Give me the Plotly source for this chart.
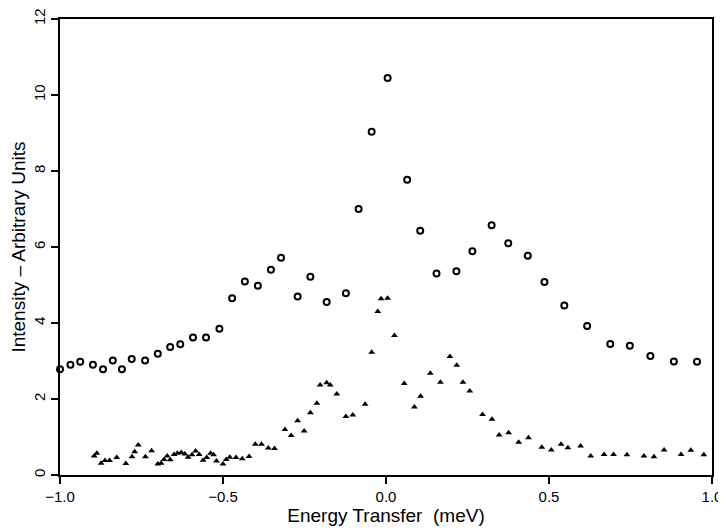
import plotly.graph_objects as go

# Open circles series
circle_x = [-1.000, -0.968, -0.938, -0.899, -0.868, -0.838, -0.810, -0.780, -0.739, -0.700,
            -0.662, -0.631, -0.592, -0.552, -0.511, -0.472, -0.433, -0.393, -0.353, -0.322,
            -0.271, -0.232, -0.182, -0.123, -0.084, -0.044, 0.005, 0.065, 0.105, 0.155,
            0.216, 0.265, 0.324, 0.375, 0.435, 0.486, 0.547, 0.617, 0.688, 0.748,
            0.811, 0.883, 0.954]
circle_y = [2.78, 2.90, 2.98, 2.90, 2.78, 3.01, 2.78, 3.05, 3.01, 3.19,
            3.37, 3.44, 3.62, 3.62, 3.85, 4.65, 5.09, 4.98, 5.40, 5.72,
            4.70, 5.22, 4.55, 4.78, 7.00, 9.03, 10.45, 7.77, 6.43, 5.30,
            5.36, 5.89, 6.57, 6.10, 5.77, 5.08, 4.46, 3.92, 3.45, 3.40,
            3.13, 2.99, 2.98]

# Filled triangles series
tri_x = [-0.895, -0.887, -0.874, -0.862, -0.848, -0.826, -0.798, -0.779, -0.771, -0.760,
         -0.738, -0.719, -0.700, -0.690, -0.681, -0.671, -0.662, -0.650, -0.640, -0.628,
         -0.617, -0.607, -0.595, -0.584, -0.573, -0.561, -0.550, -0.538, -0.529, -0.520,
         -0.500, -0.490, -0.479, -0.460, -0.441, -0.420, -0.401, -0.382, -0.361, -0.342,
         -0.310, -0.291, -0.271, -0.251, -0.232, -0.212, -0.202, -0.182, -0.171, -0.151,
         -0.123, -0.102, -0.064, -0.044, -0.025, -0.015, 0.005, 0.026, 0.056, 0.087,
         0.106, 0.136, 0.167, 0.196, 0.217, 0.236, 0.257, 0.296, 0.325, 0.347,
         0.376, 0.407, 0.437, 0.478, 0.507, 0.537, 0.558, 0.597, 0.628, 0.669,
         0.698, 0.739, 0.791, 0.822, 0.853, 0.905, 0.935, 0.975]
tri_y = [0.50, 0.57, 0.31, 0.38, 0.38, 0.46, 0.30, 0.48, 0.61, 0.79,
         0.48, 0.64, 0.29, 0.31, 0.41, 0.50, 0.40, 0.54, 0.57, 0.59,
         0.55, 0.47, 0.53, 0.63, 0.54, 0.39, 0.46, 0.57, 0.53, 0.37,
         0.29, 0.41, 0.47, 0.46, 0.43, 0.49, 0.81, 0.81, 0.71, 0.70,
         1.20, 1.04, 1.43, 1.16, 1.64, 1.89, 2.37, 2.43, 2.37, 2.13,
         1.54, 1.58, 1.86, 3.23, 4.30, 4.64, 4.65, 3.67, 2.41, 1.79,
         2.07, 2.68, 2.44, 3.12, 2.89, 2.44, 2.21, 1.59, 1.47, 1.05,
         1.11, 0.86, 0.98, 0.73, 0.66, 0.81, 0.72, 0.76, 0.50, 0.54,
         0.54, 0.53, 0.50, 0.48, 0.66, 0.54, 0.65, 0.53]

x_tickvals = [-1.0, -0.5, 0.0, 0.5, 1.0]
x_ticktext = ["\u22121.0", "\u22120.5", "0.0", "0.5", "1.0"]
y_tickvals = [0, 2, 4, 6, 8, 10, 12]
y_ticktext = ["0", "2", "4", "6", "8", "10", "12"]

FONT = "Liberation Sans"

fig = go.Figure()
fig.add_trace(go.Scatter(
    x=circle_x, y=circle_y, mode="markers", cliponaxis=False,
    marker=dict(symbol="circle-open", size=6, color="black", line=dict(width=2, color="black")),
    showlegend=False,
))
fig.add_trace(go.Scatter(
    x=tri_x, y=tri_y, mode="markers", cliponaxis=False,
    marker=dict(symbol="triangle-up", size=6, color="black", line=dict(width=0)),
    showlegend=False,
))

axis_common = dict(
    showline=True, linecolor="black", linewidth=2, mirror=True,
    showgrid=False, zeroline=False, automargin=False,
    ticks="outside", ticklen=7, tickwidth=1.5, tickcolor="black",
    tickfont=dict(family=FONT, size=15, color="black"),
)

# The page body keeps its default 8px margin, so the figure is sized to fit inside the window.
fig.update_layout(
    width=718, height=521,
    margin=dict(l=52, r=14, t=11, b=54, autoexpand=False),
    paper_bgcolor="white", plot_bgcolor="white",
    font=dict(family=FONT, color="black"),
    xaxis=dict(range=[-1.0, 1.0], tickvals=x_tickvals, ticktext=x_ticktext,
               title=dict(text="Energy Transfer  (meV)", font=dict(family=FONT, size=19), standoff=2),
               **axis_common),
    yaxis=dict(range=[0, 12], tickvals=y_tickvals, ticktext=y_ticktext, tickangle=-90,
               title=dict(text="Intensity \u2013 Arbitrary Units", font=dict(family=FONT, size=19), standoff=5),
               **axis_common),
)

fig.write_html("out.html")
